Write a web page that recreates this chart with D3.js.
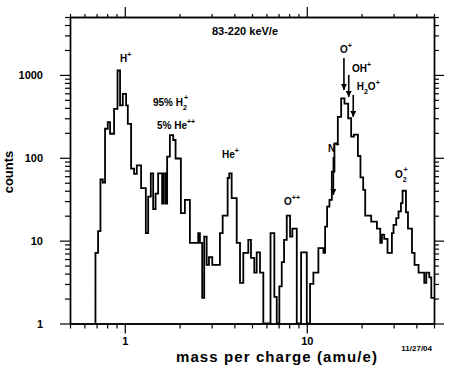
<!DOCTYPE html>
<html><head><meta charset="utf-8">
<script src="https://cdn.jsdelivr.net/npm/d3@7/dist/d3.min.js"></script>
<style>
body{margin:0;background:#fff}
svg{display:block}
text{font-family:"Liberation Sans",Arial,Helvetica,sans-serif;font-weight:bold;fill:#000}
</style>
</head><body>
<svg id="chart" width="450" height="370"></svg>
<script>
// ---- data ----
// bin edges in mass per charge (amu/e)
const binEdges = [0.690,0.713,0.735,0.757,0.779,0.806,0.830,0.873,0.912,0.942,0.975,1.017,1.039,1.083,1.125,1.164,1.229,1.305,1.344,1.390,1.432,1.476,1.525,1.604,1.639,1.681,1.709,1.769,1.845,1.901,2.033,2.139,2.279,2.532,2.587,2.663,2.732,2.817,2.900,3.024,3.333,3.450,3.674,3.750,3.866,4.120,4.296,4.479,4.771,4.937,5.148,5.306,5.534,5.770,6.320,6.633,6.838,7.067,7.285,7.501,7.762,8.092,8.331,8.810,9.303,10.0,10.42,10.87,11.58,12.34,12.61,12.93,13.32,13.73,14.19,14.81,15.45,16.11,16.88,17.53,18.14,19.09,19.72,20.41,20.94,22.59,24.28,25.32,25.87,26.64,27.77,29.36,29.96,31.00,31.92,32.91,33.59,35.07,35.97,37.84,39.10,41.13,44.21,45.36,47.12,48.32,50.0];
// counts in each bin
const counts = [7.1,13,55,50,224,270,195,390,1130,428,590,428,257,74,64,81,43,12.3,34,65,24,37,65,28,65,28,103,188,164,98,21.5,31,9.4,12.3,9.4,2.04,11.2,5.1,6.3,5.1,12.3,20,57,65,32.5,9.4,3.1,7.1,10.2,6.2,4.1,7.2,4.1,1,12.3,2.1,1,2.8,5.5,10.2,20,11.2,14,1,7.2,1,3.0,4.1,8.1,7.1,14.8,25.8,31,68,149,312,520,450,300,180,190,105,58,41,20,17,14,9.4,11.8,10.5,7.1,12.3,15.5,18.7,22.5,28.3,40,22,14,7.1,5.1,4.1,3.1,4.1,3.6,2.04];

const xMajorTicks = [1, 10];
const xTickLabels = ["1", "10"];
const yMajorTicks = [1, 10, 100, 1000];
const yTickLabels = ["1", "10", "100", "1000"];

// species annotations: text split into base / subscript / following text / superscript
const ionBase  = ["H", "95% H", "5% He", "He", "O", "N", "O", "OH", "H", "O"];
const ionSub   = ["",  "2",     "",      "",   "",  "",  "",  "",   "2", "2"];
const ionAfter = ["",  "",      "",      "",   "",  "",  "",  "",   "O", ""];
const ionSup   = ["+", "+",     "++",    "+",  "++","+", "+", "+",  "+", "+"];
const ionLabelMass  = [0.941, 1.429, 1.503, 3.42, 7.50, 13.08, 15.22, 17.72, 18.81, 30.5];
const ionLabelCount = [1436, 423, 223, 99.6, 27, 118, 1845, 1087, 659, 57.1];
// arrows: mass, count at tail, count at head
const arrowMass = [14, 16, 17, 18];
const arrowFrom = [102, 1604, 1000, 574];
const arrowTo = [35.6, 659, 543, 311];

const title = "83-220 keV/e";
const xTitle = "mass per charge (amu/e)";
const yTitle = "counts";
const dateStamp = "11/27/04";

// ---- chart ----
const L = 70, R = 434, T = 17, B = 323.5;
const svg = d3.select("#chart");

const x = d3.scaleLog().domain([0.5, 50]).range([L, R]);
const y = d3.scaleLog().domain([1, 5000]).range([B, T]);

const xMinor = x.ticks().filter(v => !xMajorTicks.includes(v));
const yMinor = y.ticks().filter(v => !yMajorTicks.includes(v) && v <= 5000);

function styleAxis(g){
  g.selectAll("path.domain").attr("stroke","#000").attr("stroke-width",1.4);
  g.selectAll(".tick line").attr("stroke","#000").attr("stroke-width",1.2);
}
function styleText(g){
  g.selectAll("text").attr("font-size",11).attr("font-weight","bold")
   .attr("font-family","Liberation Sans, Arial, sans-serif").attr("fill","#000");
}
// bottom
svg.append("g").attr("transform",`translate(0,${B})`)
  .call(d3.axisBottom(x).tickValues(xMinor).tickSize(5).tickSizeOuter(0).tickFormat(""))
  .call(styleAxis);
svg.append("g").attr("transform",`translate(0,${B})`)
  .call(d3.axisBottom(x).tickValues(xMajorTicks).tickSize(10).tickSizeOuter(0)
        .tickFormat((d,i)=>xTickLabels[i]).tickPadding(4))
  .call(styleAxis).call(styleText);
// top
svg.append("g").attr("transform",`translate(0,${T})`)
  .call(d3.axisTop(x).tickValues(xMinor).tickSize(3).tickSizeOuter(0).tickFormat(""))
  .call(styleAxis);
svg.append("g").attr("transform",`translate(0,${T})`)
  .call(d3.axisTop(x).tickValues(xMajorTicks).tickSize(10).tickSizeOuter(0).tickFormat(""))
  .call(styleAxis);
// left
svg.append("g").attr("transform",`translate(${L},0)`)
  .call(d3.axisLeft(y).tickValues(yMinor).tickSize(5).tickSizeOuter(0).tickFormat(""))
  .call(styleAxis);
svg.append("g").attr("transform",`translate(${L},0)`)
  .call(d3.axisLeft(y).tickValues(yMajorTicks).tickSize(10).tickSizeOuter(0)
        .tickFormat((d,i)=>yTickLabels[i]).tickPadding(17))
  .call(styleAxis).call(styleText);
// right
svg.append("g").attr("transform",`translate(${R},0)`)
  .call(d3.axisRight(y).tickValues(yMinor).tickSize(5).tickSizeOuter(0).tickFormat(""))
  .call(styleAxis);
svg.append("g").attr("transform",`translate(${R},0)`)
  .call(d3.axisRight(y).tickValues(yMajorTicks).tickSize(10).tickSizeOuter(0).tickFormat(""))
  .call(styleAxis);

// histogram step line
const pts = [[binEdges[0], 1]];
counts.forEach((c,i)=>{ pts.push([binEdges[i], c]); pts.push([binEdges[i+1], c]); });
svg.append("path")
  .attr("d", d3.line().x(d=>x(d[0])).y(d=>y(d[1]))(pts))
  .attr("fill","none").attr("stroke","#000").attr("stroke-width",1.8)
  .attr("stroke-linejoin","miter");

// species labels
const fs = 10, small = 7;
ionBase.forEach((b,i)=>{
  const t = svg.append("text").attr("x", x(ionLabelMass[i])).attr("y", y(ionLabelCount[i]))
    .attr("font-size", fs);
  t.append("tspan").text(b);
  if (ionSub[i] && ionAfter[i]) {
    t.append("tspan").attr("font-size", small).attr("dy", 4).text(ionSub[i]);
    t.append("tspan").attr("dy", -4).text(ionAfter[i]);
    t.append("tspan").attr("font-size", small).attr("dy", -5).text(ionSup[i]);
  } else if (ionSub[i]) {
    t.append("tspan").attr("font-size", small).attr("dy", 4).text(ionSub[i]);
    t.append("tspan").attr("font-size", small).attr("dx", -3).attr("dy", -10).text(ionSup[i]);
  } else {
    t.append("tspan").attr("font-size", small).attr("dy", -5).text(ionSup[i]);
  }
});

// arrows
svg.append("defs").append("marker").attr("id","ah")
  .attr("viewBox","0 0 10 10").attr("refX",10).attr("refY",5)
  .attr("markerWidth",9).attr("markerHeight",6).attr("markerUnits","userSpaceOnUse")
  .attr("orient","auto")
  .append("path").attr("d","M0,0 L10,5 L0,10 z").attr("fill","#000");
arrowMass.forEach((m,i)=>{
  svg.append("line").attr("x1",x(m)).attr("x2",x(m))
    .attr("y1",y(arrowFrom[i])).attr("y2",y(arrowTo[i]))
    .attr("stroke","#000").attr("stroke-width",1.6).attr("marker-end","url(#ah)");
});

// titles
svg.append("text").attr("x", 245).attr("y", 35).attr("text-anchor","middle")
  .attr("font-size", 11).text(title);
svg.append("text").attr("x", 277).attr("y", 362).attr("text-anchor","middle")
  .attr("font-size", 15).attr("letter-spacing", 1.1).text(xTitle);
svg.append("text").attr("transform","translate(13,172) rotate(-90)").attr("text-anchor","middle")
  .attr("font-size", 13).text(yTitle);
svg.append("text").attr("x", 432).attr("y", 351).attr("text-anchor","end")
  .attr("font-size", 8).attr("font-weight","normal").text(dateStamp);
</script>
</body></html>
